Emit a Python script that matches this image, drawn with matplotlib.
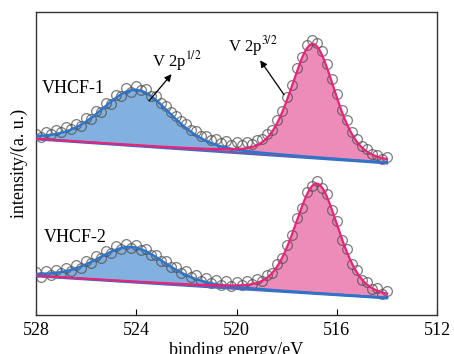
import numpy as np
import matplotlib
matplotlib.use("Agg")
import matplotlib.pyplot as plt

plt.rcParams["font.family"] = ["Liberation Serif", "DejaVu Serif"]
plt.rcParams["mathtext.fontset"] = "stix"

# binding energy grid of the measured points (eV)
energy = np.linspace(528.0, 514.0, 71)

# measured intensities (arbitrary units, stacked offsets included)
vhcf1_counts = [181, 178, 183, 181, 185, 183, 188, 186, 191, 189, 197, 196, 204, 203,
                212, 211, 220, 219, 227, 223, 229, 225, 226, 219, 219, 212, 209, 203,
                199, 194, 191, 185, 184, 179, 179, 175, 176, 172, 174, 170, 173, 170,
                173, 171, 175, 176, 181, 185, 195, 204, 218, 230, 247, 258, 270, 275,
                272, 264, 251, 236, 221, 205, 195, 183, 176, 169, 166, 161, 160, 156,
                158]
vhcf2_counts = [43, 38, 44, 40, 45, 42, 47, 44, 50, 47, 54, 52, 59, 57, 64, 62, 69, 66,
                71, 67, 70, 65, 66, 60, 60, 54, 54, 48, 48, 42, 44, 38, 40, 34, 37, 32,
                35, 30, 34, 29, 33, 30, 34, 31, 36, 34, 40, 42, 51, 57, 70, 80, 97, 107,
                123, 129, 134, 127, 121, 105, 94, 75, 66, 51, 45, 35, 33, 26, 27, 21, 24]

# fitted components: background ends, V 2p1/2 and V 2p3/2 peaks (center, height, fwhm)
bg_ends = {"VHCF-1": (176, 152), "VHCF-2": (39, 17)}
p12_peak = {"VHCF-1": (524.0, 56, 3.3), "VHCF-2": (524.2, 35, 3.2)}
p32_peak = {"VHCF-1": (516.95, 114, 2.05), "VHCF-2": (516.8, 110, 2.05)}
lor_frac = 0.3


def pseudo_voigt(x, center, height, fwhm):
    sigma = fwhm / 2.3548
    gamma = fwhm / 2
    g = np.exp(-0.5 * ((x - center) / sigma) ** 2)
    l = 1 / (1 + ((x - center) / gamma) ** 2)
    return height * ((1 - lor_frac) * g + lor_frac * l)


fig = plt.figure(figsize=(4.54, 3.54), dpi=100)
ax = fig.add_axes([0.0793, 0.1102, 0.8833, 0.8558])

x = np.linspace(528.0, 514.0, 400)
for name, counts in [("VHCF-1", vhcf1_counts), ("VHCF-2", vhcf2_counts)]:
    b0, b1 = bg_ends[name]
    bg = b0 + (b1 - b0) * (528.0 - x) / 14.0
    blue = bg + pseudo_voigt(x, *p12_peak[name])
    pink = bg + pseudo_voigt(x, *p32_peak[name])

    ax.fill_between(x, bg, blue, color="#74a9dc", alpha=0.9, lw=0, zorder=1)
    ax.fill_between(x, bg, pink, color="#ec86b6", alpha=0.95, lw=0, zorder=1.5)
    ax.plot(energy, counts, "o", ms=7, mfc="none", mec="#505050", mew=0.9,
            alpha=0.75, zorder=2)
    ax.plot(x, bg, color="#2f70c4", lw=2.0, zorder=3)
    ax.plot(x, bg, color="#9a4c9e", lw=0.7, zorder=3.2)
    ax.plot(x, blue, color="#2f74c8", lw=1.8, zorder=3.5)
    ax.plot(x, pink, color="#e8237a", lw=1.6, zorder=3.6)

ax.text(527.76, 227, "VHCF-1", fontsize=13, va="center", ha="left")
ax.text(527.68, 78, "VHCF-2", fontsize=13, va="center", ha="left")

ax.annotate("", xy=(522.52, 243), xytext=(523.56, 212),
            arrowprops=dict(arrowstyle="-|>", color="black", lw=0.9, mutation_scale=10),
            zorder=5)
ax.text(523.36, 254, r"V 2p$^{1/2}$", fontsize=12, va="center", ha="left")
ax.annotate("", xy=(519.12, 257), xytext=(518.04, 218),
            arrowprops=dict(arrowstyle="-|>", color="black", lw=0.9, mutation_scale=10),
            zorder=5)
ax.text(520.32, 269, r"V 2p$^{3/2}$", fontsize=12, va="center", ha="left")

ax.set_xlim(528, 512)
ax.set_ylim(0, 303)
ax.set_xticks([528, 524, 520, 516, 512])
ax.set_yticks([])
ax.tick_params(axis="x", direction="in", length=4, width=0.8, labelsize=13, pad=5)
for s in ax.spines.values():
    s.set_color("#333333")
    s.set_linewidth(1.0)

ax.set_xlabel("binding energy/eV", fontsize=13, labelpad=2)
ax.set_ylabel("intensity/(a. u.)", fontsize=13, labelpad=6)

fig.savefig("out.png", dpi=100)
